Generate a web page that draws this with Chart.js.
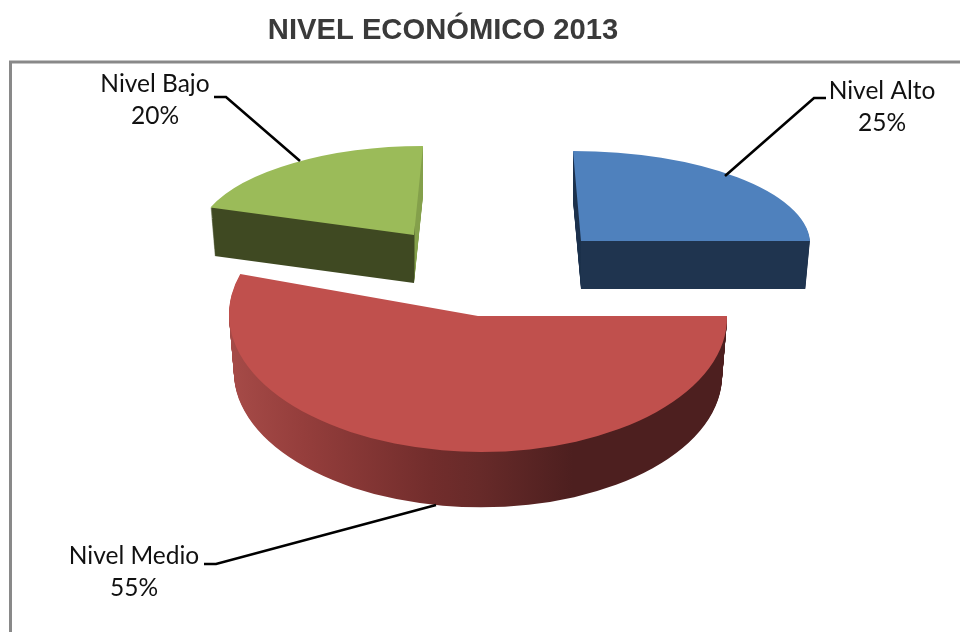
<!DOCTYPE html>
<html lang="es">
<head>
<meta charset="utf-8">
<title>Nivel económico 2013</title>
<script src="https://cdn.jsdelivr.net/npm/chart.js@4/dist/chart.umd.min.js"></script>
<style>
  html, body { margin: 0; padding: 0; background: #fff; }
  canvas { display: block; }
</style>
</head>
<body>
<canvas id="pie" width="960" height="632"></canvas>
<script>
// Data
const categories = ['Nivel Alto', 'Nivel Medio', 'Nivel Bajo'];
const shares = [25, 55, 20];
const titleText = 'NIVEL ECONÓMICO 2013';

// Colours
const topColors = ['#4f81bd', '#c0504d', '#9bbb59'];

// ── 3D look ───────────────────────────────────────────────────────────
// Each slice gets its own affine frame (the reference is a tilted, exploded pie):
// ax = screen width of the radius, dy = screen height, sx = lean, ox/oy = apex
const sliceFrames = [
    { ox: 581, oy: 241, ax: 229, sx: 8,  dy: 90,  depth: 48 },
    { ox: 478, oy: 316, ax: 249, sx: 3,  dy: 136, depth: 58 },
    { ox: 414, oy: 235, ax: 217, sx: -9, dy: 89,  depth: 48 },
];

// Label placement: text centre and leader line
const labelSpots = [
    { x: 882, y: 91,  lead: [[725, 176], [814, 98], [826, 98]] },
    { x: 134, y: 556.5, lead: [[436, 505], [216, 564], [204, 564]] },
    { x: 155, y: 84.5,  lead: [[300, 161], [226, 97], [214, 97]] },
];

function applyFrame(ctx, el, f, shrink, drop) {
    const R = el.outerRadius;
    ctx.translate(f.ox, f.oy + drop);
    ctx.transform(f.ax * shrink / R, 0, f.sx / R, f.dy * shrink / R, 0, 0);
    ctx.translate(-el.x, -el.y);
}

// Left-to-right gradient between two screen x values. It is filled inside the
// slice's frame, so the gradient line has to be undone through that frame.
function screenGradient(ctx, el, f, x0, x1) {
    const k = el.outerRadius / (f.ax * f.ax + f.sx * f.sx);
    const t0 = (x0 - f.ox) * k;
    const t1 = (x1 - f.ox) * k;
    return ctx.createLinearGradient(
        el.x + t0 * f.ax, el.y + t0 * f.sx,
        el.x + t1 * f.ax, el.y + t1 * f.sx
    );
}

function redSide(ctx, el, f) {
    const g = screenGradient(ctx, el, f, 232, 727);
    g.addColorStop(0, '#a54a47');
    g.addColorStop(0.14, '#953e3c');
    g.addColorStop(0.40, '#722d2c');
    g.addColorStop(0.50, '#672a29');
    g.addColorStop(0.69, '#4d1f1f');
    g.addColorStop(1, '#4d1f1f');
    return g;
}

// green: dark front face, lit sliver on the cut edge to the right of the apex
function greenSide(ctx, el, f) {
    const g = screenGradient(ctx, el, f, 210, 424);
    g.addColorStop(0, '#3f4922');
    g.addColorStop(0.953, '#3f4922');
    g.addColorStop(0.958, '#84a04b');
    g.addColorStop(1, '#84a04b');
    return g;
}

const sideFills = [() => '#1f344f', redSide, greenSide];

const tiltedPie = {
    id: 'tiltedPie',
    beforeDraw(chart) {
        // frame of the chart area, runs off the page on the right and bottom
        const ctx = chart.ctx;
        ctx.save();
        ctx.strokeStyle = '#898989';
        ctx.lineWidth = 3;
        ctx.strokeRect(10.5, 62, 1000, 700);
        ctx.restore();
    },
    beforeDatasetsDraw(chart) {
        const ctx = chart.ctx;
        const arcs = chart.getDatasetMeta(0).data;
        arcs.forEach((el, i) => {
            const f = sliceFrames[i];
            const opts = el.options;

            el.options = Object.assign({}, opts, { backgroundColor: sideFills[i](ctx, el, f) });
            for (let d = f.depth; d > 0; d--) {
                ctx.save();
                applyFrame(ctx, el, f, 1 - 0.02 * d / f.depth, d);
                el.draw(ctx);
                ctx.restore();
            }
            el.options = opts;

            ctx.save();
            applyFrame(ctx, el, f, 1, 0);
            el.draw(ctx);
            ctx.restore();
        });
        return false;
    },
    // datasets draw is cancelled above, so labels hang on afterDraw
    afterDraw(chart) {
        const ctx = chart.ctx;
        const total = shares.reduce((a, b) => a + b, 0);
        ctx.save();
        ctx.font = '24.5px Lato, Carlito, sans-serif';
        ctx.textAlign = 'center';
        ctx.textBaseline = 'middle';
        labelSpots.forEach((s, i) => {
            ctx.beginPath();
            s.lead.forEach((p, j) => j ? ctx.lineTo(p[0], p[1]) : ctx.moveTo(p[0], p[1]));
            ctx.strokeStyle = '#000';
            ctx.lineWidth = 2.6;
            ctx.stroke();
            ctx.fillStyle = '#111';
            ctx.fillText(categories[i], s.x, s.y);
            ctx.fillText(Math.round(shares[i] / total * 100) + '%', s.x, s.y + 32);
        });
        ctx.restore();
    },
};

new Chart(document.getElementById('pie'), {
    type: 'pie',
    data: {
        labels: categories,
        datasets: [{ data: shares, backgroundColor: topColors, borderWidth: 0 }],
    },
    options: {
        responsive: false,
        animation: false,
        layout: { padding: { right: 74 } },
        plugins: {
            legend: { display: false },
            tooltip: { enabled: false },
            title: {
                display: true,
                text: titleText,
                color: '#3a3a3a',
                font: { family: '"Liberation Sans", Arial, sans-serif', size: 29.2, weight: 'bold' },
                padding: { top: 13, bottom: 10 },
            },
        },
    },
    plugins: [tiltedPie],
});
</script>
</body>
</html>
